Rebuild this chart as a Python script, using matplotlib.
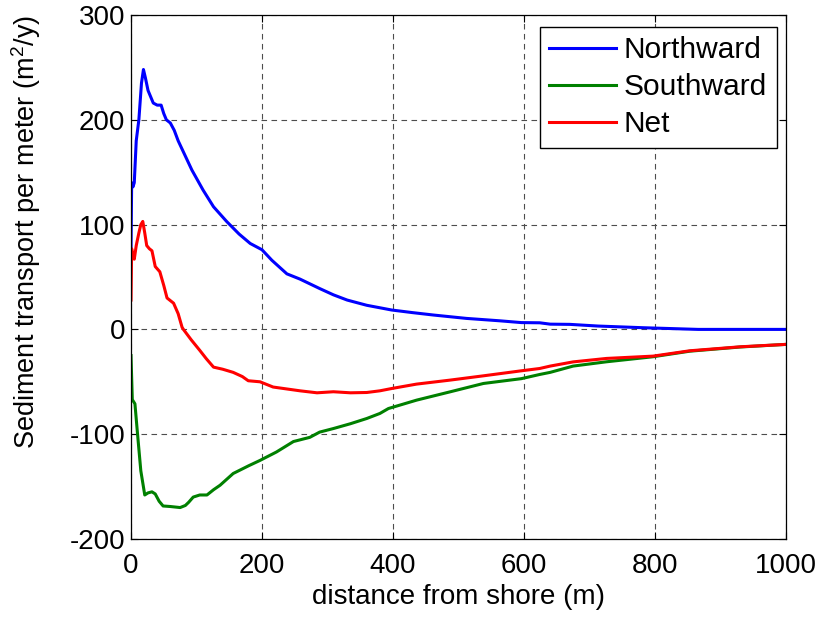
import matplotlib
matplotlib.use("Agg")
import matplotlib.pyplot as plt
import numpy as np

plt.rcParams['font.family'] = ['Liberation Sans', 'DejaVu Sans']
plt.rcParams['axes.unicode_minus'] = False
plt.rcParams['mathtext.fontset'] = 'custom'
plt.rcParams['mathtext.rm'] = 'Liberation Sans'

north_x = [0, 1, 3, 5, 8, 12, 16, 19, 22, 26, 30, 34, 40, 46, 50, 54, 60, 66, 72, 78, 93, 110, 126,
           146, 165, 182, 200, 215, 238, 258, 288, 309, 330, 360, 398, 430, 462, 512, 563, 596, 624,
           640, 670, 713, 782, 866, 1000]
north_y = [76, 140, 136, 140, 180, 200, 235, 248, 240, 228, 222, 216, 214, 214, 206, 200, 197, 190, 180,
           172, 152, 133, 117, 103, 91, 82, 76, 66, 53, 48, 39, 33, 28, 23, 18.5, 16, 13.7, 10.5, 8.2,
           6.5, 6.3, 5, 4.8, 3.2, 1.6, 0, 0]

south_x = [0, 2, 6, 10, 15, 21, 26, 32, 37, 43, 49, 60, 75, 83, 88, 95, 105, 116, 126, 136, 156, 180,
           197, 222, 248, 273, 288, 309, 335, 360, 380, 393, 436, 487, 538, 596, 624, 640, 675, 726,
           797, 853, 930, 1000]
south_y = [-25, -67, -71, -100, -135, -158, -156, -155, -157, -164, -168.5, -169, -170, -168, -165, -160,
           -158, -158, -153, -148.7, -137.5, -130, -125, -117, -107, -103, -98, -94.6, -90, -85, -80.2,
           -75.5, -67.5, -59.6, -51.6, -47, -43, -41, -35, -30.9, -26.1, -20.8, -16.8, -14.3]

net_x = [0, 1, 3, 5, 8, 12, 15, 18, 21, 24, 28, 32, 37, 44, 50, 55, 65, 72, 78, 80, 92, 105, 115, 126,
         140, 156, 170, 179, 197, 217, 258, 284, 309, 335, 360, 380, 398, 436, 487, 538, 596, 624, 640,
         675, 726, 797, 853, 930, 1000]
net_y = [28, 77, 70, 67, 80, 92, 100, 103, 92, 80, 77, 75, 60, 55, 42, 30, 25, 15, 2, 0, -10, -20, -28,
         -36, -38, -41, -45, -49, -50, -55, -58.6, -60.5, -59.5, -60.5, -60.2, -58.6, -56.4, -52.2,
         -48.4, -44.3, -39.5, -37.3, -35, -31, -27.7, -25.5, -20.4, -16.6, -14.3]

xticks = [0, 200, 400, 600, 800, 1000]
yticks = [-200, -100, 0, 100, 200, 300]
labels = ["Northward", "Southward", "Net"]

fig = plt.figure(figsize=(8.22, 6.17), dpi=100)
ax = fig.add_axes([131/822, 1 - 539/617, 655/822, 524/617])

lw = 2.2
ax.plot(north_x, north_y, color=(0, 0, 1), lw=lw, label=labels[0])
ax.plot(south_x, south_y, color=(0, 0.5, 0), lw=lw, label=labels[1])
ax.plot(net_x, net_y, color=(1, 0, 0), lw=lw, label=labels[2])

ax.set_xlim(0, 1000)
ax.set_ylim(-200, 300)
ax.set_xticks(xticks)
ax.set_yticks(yticks)
ax.tick_params(direction='in', length=5, width=0.8, labelsize=20, top=True, right=True, pad=4)
ax.tick_params(axis='x', pad=10)
ax.grid(True, color='0.3', linestyle=(0, (5, 4)), linewidth=0.8)
for s in ax.spines.values():
    s.set_linewidth(0.9)

ax.set_xlabel("distance from shore (m)", fontsize=20, labelpad=4)
ax.set_ylabel("Sediment transport per meter (m$^2$/y)", fontsize=19.5, labelpad=6)
ax.yaxis.set_label_coords(-0.135, 0.585)

leg = ax.legend(loc='upper right', bbox_to_anchor=(0.9858, 0.9777), borderaxespad=0,
                fontsize=21.5, frameon=True, fancybox=False, handlelength=2.25, handletextpad=0.25,
                borderpad=0.32, labelspacing=0.3)
leg.get_frame().set_edgecolor('black')
leg.get_frame().set_linewidth(1.0)
leg.get_frame().set_alpha(1)

fig.savefig("out.png", dpi=100)
